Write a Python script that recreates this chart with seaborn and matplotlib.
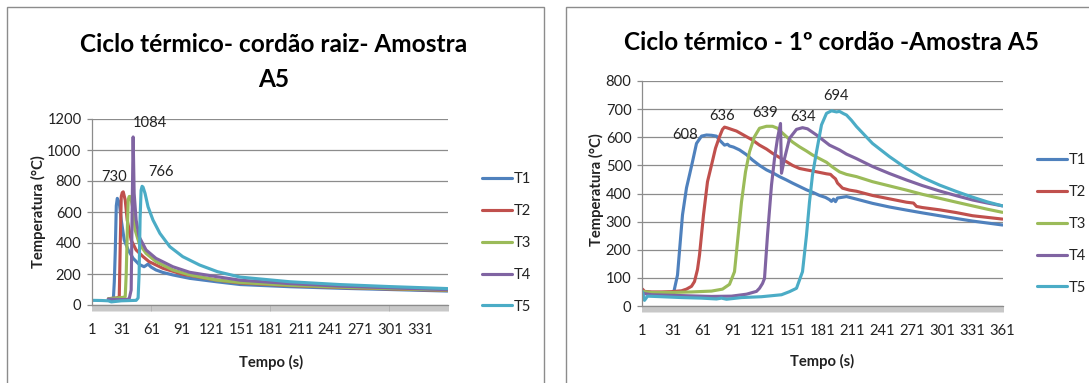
import matplotlib
matplotlib.use("Agg")
import matplotlib.pyplot as plt
from matplotlib.patches import Rectangle
import numpy as np
import pandas as pd
import seaborn as sns

# ---------------- data ----------------
series_names = ["T1", "T2", "T3", "T4", "T5"]
series_colors = ["#4F81BD", "#C0504D", "#9BBB59", "#8064A2", "#4BACC6"]

# Root pass (cordão raiz) - time (s) and temperature (°C)
raiz_t1_time = [17, 20, 22, 23, 24, 25, 26, 28, 30, 33, 37, 42, 48, 53, 55, 57, 60, 65, 72, 82, 99, 126, 150, 200, 250, 300, 359]
raiz_t1_temp = [35, 33, 35, 150, 355, 640, 688, 660, 548, 419, 355, 301, 262, 247, 255, 264, 245, 226, 210, 194, 172, 150, 132, 118, 108, 100, 90]
raiz_t2_time = [17, 20, 25, 27, 28, 29, 30, 31, 32, 34, 36, 40, 45, 52, 58, 72, 92, 126, 150, 200, 250, 300, 359]
raiz_t2_temp = [40, 42, 45, 48, 53, 398, 700, 725, 730, 677, 548, 419, 355, 312, 280, 237, 198, 161, 142, 125, 113, 104, 94]
raiz_t3_time = [17, 20, 25, 30, 33, 34, 35, 36, 37, 38, 39, 40, 42, 44, 48, 55, 65, 82, 99, 126, 150, 200, 250, 300, 359]
raiz_t3_temp = [40, 43, 45, 48, 50, 53, 200, 450, 680, 700, 700, 680, 613, 484, 398, 333, 280, 226, 194, 161, 145, 127, 115, 106, 96]
raiz_t4_time = [17, 25, 30, 35, 38, 40, 41, 42, 43, 45, 48, 55, 65, 82, 99, 126, 150, 200, 250, 300, 359]
raiz_t4_temp = [38, 36, 35, 35, 40, 97, 613, 1084, 720, 548, 441, 355, 301, 247, 211, 183, 160, 138, 122, 111, 99]
raiz_t5_time = [1, 10, 17, 20, 30, 40, 45, 47, 48, 49, 50, 51, 52, 54, 57, 62, 69, 79, 92, 109, 127, 150, 200, 250, 300, 359]
raiz_t5_temp = [30, 29, 27, 20, 27, 29, 30, 45, 200, 560, 740, 766, 760, 720, 634, 548, 462, 376, 312, 258, 215, 180, 150, 132, 119, 106]

# First pass (1º cordão)
c1_t1_time = [1, 5, 15, 25, 32, 36, 41, 45, 48, 51, 55, 60, 65, 70, 75, 78, 83, 86, 88, 92, 98, 105, 111, 118, 125, 132, 138, 145, 151, 158, 165, 172, 178, 184, 188, 190, 192, 194, 196, 198, 205, 215, 231, 248, 265, 281, 298, 315, 331, 346, 361]
c1_t1_temp = [45, 46, 44, 42, 45, 110, 324, 420, 466, 513, 578, 604, 608, 607, 604, 590, 572, 575, 569, 565, 555, 538, 519, 500, 484, 472, 460, 448, 437, 425, 413, 403, 393, 386, 378, 372, 380, 371, 384, 385, 389, 380, 365, 352, 341, 331, 321, 311, 302, 295, 288]
c1_t2_time = [1, 3, 10, 20, 30, 40, 45, 50, 53, 56, 58, 62, 66, 70, 74, 78, 81, 83, 86, 90, 95, 100, 105, 111, 118, 125, 131, 138, 145, 151, 158, 165, 171, 178, 185, 189, 191, 194, 196, 198, 201, 208, 215, 231, 248, 265, 272, 275, 281, 298, 315, 331, 346, 361]
c1_t2_temp = [60, 52, 50, 50, 51, 54, 60, 70, 87, 130, 181, 324, 442, 501, 561, 602, 628, 636, 633, 628, 622, 612, 602, 590, 572, 558, 543, 528, 513, 500, 489, 484, 480, 475, 470, 468, 461, 452, 437, 430, 419, 412, 408, 393, 381, 369, 366, 354, 350, 342, 332, 321, 315, 309]
c1_t3_time = [1, 10, 30, 50, 70, 81, 88, 93, 96, 100, 104, 108, 113, 118, 125, 131, 136, 140, 145, 151, 158, 165, 171, 178, 185, 191, 198, 205, 215, 231, 248, 265, 281, 298, 315, 331, 346, 361]
c1_t3_temp = [52, 48, 48, 50, 53, 60, 77, 122, 228, 370, 477, 548, 602, 632, 639, 639, 632, 618, 602, 583, 566, 551, 537, 524, 511, 494, 477, 468, 460, 442, 427, 412, 397, 383, 369, 356, 344, 333]
c1_t4_time = [1, 10, 30, 50, 70, 90, 105, 115, 118, 121, 123, 126, 130, 133, 136, 139, 140, 143, 148, 155, 161, 166, 175, 188, 198, 205, 215, 231, 248, 265, 281, 298, 315, 331, 346, 361]
c1_t4_temp = [45, 40, 38, 36, 34, 35, 42, 52, 63, 80, 98, 252, 430, 524, 596, 649, 472, 524, 596, 628, 634, 630, 608, 572, 555, 540, 524, 496, 471, 448, 428, 409, 392, 377, 366, 356]
c1_t5_time = [1, 3, 6, 20, 40, 60, 75, 80, 85, 100, 120, 140, 148, 155, 161, 165, 168, 171, 175, 180, 185, 190, 195, 198, 202, 205, 210, 215, 231, 248, 265, 281, 298, 315, 331, 346, 361]
c1_t5_temp = [50, 20, 35, 33, 30, 28, 25, 28, 24, 30, 33, 40, 51, 63, 122, 252, 370, 466, 548, 644, 685, 694, 690, 692, 684, 679, 660, 638, 578, 531, 489, 457, 430, 407, 387, 370, 356]

# Peak value labels: (text, time, temperature)
raiz_labels = [("730", 23, 824), ("1084", 59, 1172), ("766", 70, 857)]
c1_labels = [("608", 44, 608), ("636", 81, 677), ("639", 124, 686), ("634", 162, 673), ("694", 195, 748)]

raiz_xticks = list(range(1, 332, 30))
c1_xticks = list(range(1, 362, 30))
raiz_yticks = list(range(0, 1201, 200))
c1_yticks = list(range(0, 801, 100))

title_raiz = "Ciclo térmico- cordão raiz- Amostra\nA5"
title_c1 = "Ciclo térmico - 1º cordão -Amostra A5"
xlabel = "Tempo (s)"
ylabel = "Temperatura (°C)"


def long_frame(times, temps):
    frames = []
    for name, t, v in zip(series_names, times, temps):
        frames.append(pd.DataFrame({"Tempo": t, "Temperatura": v, "Serie": name}))
    return pd.concat(frames, ignore_index=True)


df_raiz = long_frame([raiz_t1_time, raiz_t2_time, raiz_t3_time, raiz_t4_time, raiz_t5_time],
                     [raiz_t1_temp, raiz_t2_temp, raiz_t3_temp, raiz_t4_temp, raiz_t5_temp])
df_c1 = long_frame([c1_t1_time, c1_t2_time, c1_t3_time, c1_t4_time, c1_t5_time],
                   [c1_t1_temp, c1_t2_temp, c1_t3_temp, c1_t4_temp, c1_t5_temp])

# ---------------- style ----------------
sns.set_theme(style="white")
plt.rcParams["font.family"] = ["Lato", "DejaVu Sans"]
plt.rcParams["xtick.bottom"] = True
plt.rcParams["ytick.left"] = True
GRID = "#8c8c8c"
TXT = "#222222"
FS = 10.6

W, H = 1089, 383
fig = plt.figure(figsize=(W / 100, H / 100), dpi=100)
fig.patch.set_facecolor("white")

# chart frames
for (x0, y0, x1, y1) in [(7, 7, 544, 395), (566, 7, 1100, 395)]:
    fig.patches.append(Rectangle((x0 / W, 1 - y1 / H), (x1 - x0) / W, (y1 - y0) / H,
                                 transform=fig.transFigure, fill=False,
                                 edgecolor=GRID, linewidth=1.0, zorder=0))


def px_axes(x0, ytop, x1, ybot):
    return fig.add_axes([x0 / W, 1 - ybot / H, (x1 - x0) / W, (ybot - ytop) / H])


def style_axes(ax, ncat, xticks, yticks, ymax):
    ax.set_xlim(0.5, ncat + 0.5)
    ax.set_ylim(0, ymax)
    ax.set_xticks(xticks)
    ax.set_xticklabels([str(v) for v in xticks])
    # one tick mark per category boundary
    ax.set_xticks(np.arange(0.5, ncat + 1, 1.0), minor=True)
    ax.set_yticks(yticks)
    ax.grid(axis="y", which="major", color=GRID, linewidth=0.9)
    ax.grid(axis="x", which="both", visible=False)
    ax.set_axisbelow(True)
    for s in ["top", "right"]:
        ax.spines[s].set_visible(False)
    for s in ["left", "bottom"]:
        ax.spines[s].set_color(GRID)
        ax.spines[s].set_linewidth(0.9)
    ax.tick_params(axis="x", which="major", length=0, pad=13, labelsize=FS, labelcolor=TXT,
                   bottom=True)
    ax.tick_params(axis="x", which="minor", length=4.0, width=0.45, color="#a8a8a8",
                   direction="out", bottom=True, top=False)
    ax.tick_params(axis="y", which="major", length=3.5, width=0.9, color=GRID, pad=4,
                   labelsize=FS, labelcolor=TXT, left=True)
    ax.set_xlabel(xlabel, fontsize=FS, fontweight="bold", color=TXT)
    ax.set_ylabel(ylabel, fontsize=FS, fontweight="bold", color=TXT)
    ax.xaxis.label.set_va("center")
    ax.yaxis.label.set_va("center")


def draw(ax, df):
    sns.lineplot(data=df, x="Tempo", y="Temperatura", hue="Serie", hue_order=series_names,
                 palette=series_colors, estimator=None, sort=False, linewidth=2.25, ax=ax)


# ---------------- left chart ----------------
ax1 = px_axes(92, 119, 448, 305)
draw(ax1, df_raiz)
style_axes(ax1, 359, raiz_xticks, raiz_yticks, 1200)
ax1.xaxis.set_label_coords((271 - 92) / 356, (305 - 362) / 186)
ax1.yaxis.set_label_coords((38 - 92) / 356, (305 - 212) / 186)
for txt, t, v in raiz_labels:
    ax1.text(t, v, txt, ha="center", va="center", fontsize=FS, color=TXT, clip_on=False)
sns.move_legend(ax1, "center left", bbox_to_anchor=((482 - 92) / 356, (305 - 243) / 186),
                frameon=False, title=None, fontsize=FS, handlelength=2.05,
                handletextpad=0.1, labelspacing=1.21, borderpad=0, borderaxespad=0)

# ---------------- right chart ----------------
ax2 = px_axes(642, 81, 1003, 306)
draw(ax2, df_c1)
style_axes(ax2, 361, c1_xticks, c1_yticks, 800)
ax2.xaxis.set_label_coords((822 - 642) / 361, (306 - 361) / 225)
ax2.yaxis.set_label_coords((596 - 642) / 361, (306 - 190) / 225)
for txt, t, v in c1_labels:
    ax2.text(t, v, txt, ha="center", va="center", fontsize=FS, color=TXT, clip_on=False)
sns.move_legend(ax2, "center left", bbox_to_anchor=((1037 - 642) / 361, (306 - 224) / 225),
                frameon=False, title=None, fontsize=FS, handlelength=2.05,
                handletextpad=0.1, labelspacing=1.21, borderpad=0, borderaxespad=0)

for ax in (ax1, ax2):
    leg = ax.get_legend()
    for ln in leg.get_lines():
        ln.set_linewidth(2.25)
    for t in leg.get_texts():
        t.set_color(TXT)

# titles
fig.text(274 / W, 1 - 62 / H, title_raiz, ha="center", va="center", fontsize=17.6,
         fontweight="bold", color="black", linespacing=1.65)
fig.text(832 / W, 1 - 43 / H, title_c1, ha="center", va="center", fontsize=17.6,
         fontweight="bold", color="black")

fig.savefig("out.png", dpi=100, facecolor="white")
